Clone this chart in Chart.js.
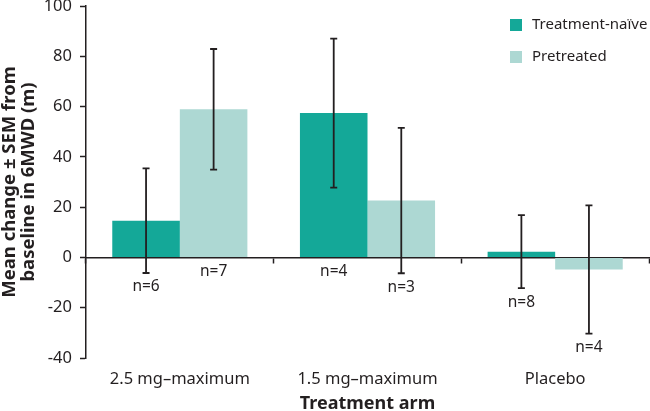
<!DOCTYPE html>
<html>
<head>
<meta charset="utf-8">
<script src="https://cdn.jsdelivr.net/npm/chart.js@4/dist/chart.umd.min.js"></script>
<style>
  body { margin: 0; background: #fff; }
  #wrap { width: 650px; height: 411px; }
</style>
</head>
<body>
<div id="wrap"><canvas id="sixmwd" width="650" height="411"></canvas></div>
<script>
const categories = ['2.5 mg\u2013maximum', '1.5 mg\u2013maximum', 'Placebo'];
const seriesNames = ['Treatment-na\u00efve', 'Pretreated'];

// mean change and SEM
const naiveMean = [14.6, 57.4, 2.3];
const naiveSem = [20.8, 29.6, 14.5];
const naiveN = [6, 4, 8];

const pretreatedMean = [58.9, 22.6, -4.8];
const pretreatedSem = [24.0, 28.9, 25.5];
const pretreatedN = [7, 3, 4];

const yMin = -40, yMax = 100, yStep = 20;

const naiveColor = '#14a898';
const pretreatedColor = '#add8d3';
const inkColor = '#231f20';
const fontFamily = "'Noto Sans', 'Open Sans', sans-serif";

const semSets = [naiveSem, pretreatedSem];
const nSets = [naiveN, pretreatedN];

// error bars plus the n= labels under each bar
const errorBars = {
    id: 'errorBars',
    afterDatasetsDraw(chart) {
        const ctx = chart.ctx;
        const y = chart.scales.y;
        const zero = y.getPixelForValue(0);
        ctx.save();
        ctx.strokeStyle = inkColor;
        ctx.fillStyle = inkColor;
        ctx.lineWidth = 1.8;
        ctx.font = '15.5px ' + fontFamily;
        ctx.textAlign = 'center';
        ctx.textBaseline = 'middle';
        chart.data.datasets.forEach((ds, i) => {
            const meta = chart.getDatasetMeta(i);
            meta.data.forEach((bar, j) => {
                const mean = ds.data[j];
                const sem = semSets[i][j];
                const top = y.getPixelForValue(mean + sem);
                const low = y.getPixelForValue(mean - sem);
                const cap = 3.5;
                ctx.beginPath();
                ctx.moveTo(bar.x, top);
                ctx.lineTo(bar.x, low);
                ctx.moveTo(bar.x - cap, top);
                ctx.lineTo(bar.x + cap, top);
                ctx.moveTo(bar.x - cap, low);
                ctx.lineTo(bar.x + cap, low);
                ctx.stroke();
                const labelY = Math.max(zero, low) + 14;
                ctx.fillText('n=' + nSets[i][j], bar.x, labelY);
            });
        });
        ctx.restore();
    }
};

// legend stacked in the top right corner
const cornerLegend = {
    id: 'cornerLegend',
    afterDraw(chart) {
        const ctx = chart.ctx;
        const area = chart.chartArea;
        const left = area.right - 139;
        ctx.save();
        ctx.font = '15px ' + fontFamily;
        ctx.textBaseline = 'middle';
        ctx.textAlign = 'left';
        chart.data.datasets.forEach((ds, i) => {
            const cy = 25 + i * 32;
            ctx.fillStyle = ds.backgroundColor;
            ctx.fillRect(left, cy - 6, 12, 12);
            ctx.fillStyle = inkColor;
            ctx.fillText(ds.label, left + 22, cy);
        });
        ctx.restore();
    }
};

const ctx = document.getElementById('sixmwd').getContext('2d');
new Chart(ctx, {
    type: 'bar',
    data: {
        labels: categories,
        datasets: [{
            label: seriesNames[0],
            data: naiveMean,
            backgroundColor: naiveColor,
            categoryPercentage: 0.72,
            barPercentage: 1
        }, {
            label: seriesNames[1],
            data: pretreatedMean,
            backgroundColor: pretreatedColor,
            categoryPercentage: 0.72,
            barPercentage: 1
        }]
    },
    options: {
        responsive: false,
        animation: false,
        layout: { padding: { top: 0, right: 1, bottom: 0, left: 0 } },
        plugins: {
            legend: { display: false },
            tooltip: { enabled: false }
        },
        scales: {
            x: {
                position: { y: 0 },
                offset: true,
                grid: {
                    offset: true,
                    drawOnChartArea: false,
                    drawTicks: true,
                    tickLength: 5,
                    tickWidth: 1.5,
                    color: inkColor
                },
                border: { color: inkColor, width: 1.5 },
                ticks: { display: false }
            },
            x2: {
                type: 'category',
                labels: categories,
                position: 'bottom',
                offset: true,
                afterFit(scale) {
                    scale.height = 53;
                },
                grid: { display: false, drawTicks: false },
                border: { display: false },
                ticks: {
                    color: inkColor,
                    padding: 13,
                    font: { family: fontFamily, size: 16.5, lineHeight: 1 }
                },
                title: {
                    display: true,
                    text: 'Treatment arm',
                    color: inkColor,
                    padding: { top: 0, bottom: -2 },
                    font: { family: fontFamily, size: 18, weight: 'bold', lineHeight: 1 }
                }
            },
            y: {
                min: yMin,
                max: yMax,
                afterFit(scale) {
                    scale.width = 86;
                    scale.paddingTop = 6;
                },
                ticks: {
                    stepSize: yStep,
                    color: inkColor,
                    padding: 8,
                    font: { family: fontFamily, size: 16.5 }
                },
                grid: {
                    drawOnChartArea: false,
                    tickLength: 6,
                    tickWidth: 1.5,
                    color: inkColor
                },
                border: { color: inkColor, width: 1.5 },
                title: {
                    display: true,
                    text: ['Mean change \u00b1 SEM from', 'baseline in 6MWD (m)'],
                    color: inkColor,
                    padding: { top: 0, bottom: 0 },
                    font: { family: fontFamily, size: 18.5, weight: 'bold', lineHeight: 1.03 }
                }
            }
        }
    },
    plugins: [errorBars, cornerLegend]
});
</script>
</body>
</html>
